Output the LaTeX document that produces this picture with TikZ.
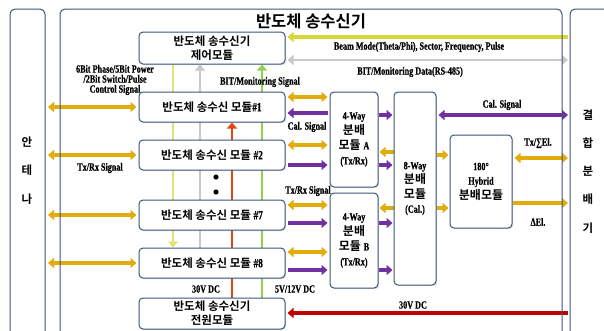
\documentclass[tikz,border=0pt]{standalone}
\usepackage{fontspec}
\setmainfont{Liberation Serif}
\newfontfamily\kr{Noto Sans CJK KR Bold}
\newfontfamily\cond{Liberation Serif Bold}[FakeStretch=0.74,FakeBold=0.6]
\usetikzlibrary{arrows.meta,shadows}
\pgfdeclarelayer{bg}
\pgfsetlayers{bg,main}
\definecolor{boxc}{RGB}{60,85,125}
\definecolor{gold}{RGB}{226,172,10}
\definecolor{purp}{RGB}{112,48,160}
\definecolor{dred}{RGB}{192,0,0}
\definecolor{ored}{RGB}{225,70,20}
\definecolor{lgreen}{RGB}{146,208,80}
\definecolor{pyel}{RGB}{225,228,110}
\definecolor{tyel}{RGB}{215,215,55}
\definecolor{lgray}{RGB}{200,200,200}
\tikzset{
  frame/.style={draw=boxc, line width=1pt, rounded corners=5pt},
  blk/.style={draw=boxc, line width=1pt, rounded corners=4pt, fill=white,
    drop shadow={opacity=0.25, shadow xshift=1.2pt, shadow yshift=-1.2pt},
    align=center, inner sep=0pt},
  modbox/.style={blk, minimum width=146pt, minimum height=30pt, font=\kr\fontsize{11.5}{15}\selectfont},
  lbl/.style={font=\cond\fontsize{11}{10}\selectfont, inner sep=0pt, align=center},
  tip/.style={-{Triangle[width=10pt,length=6pt]}},
  dtip/.style={{Triangle[width=10pt,length=6pt]}-{Triangle[width=10pt,length=6pt]}},
  yarr/.style={draw=gold, line width=3.2pt},
  parr/.style={draw=purp, line width=3.2pt},
  vline/.style={line width=2.6pt},
}
\newcommand{\cfs}{\cond\fontsize{11}{12}\selectfont}
\newcommand{\cfm}{\cond\fontsize{12.5}{13}\selectfont}
\begin{document}
\begin{tikzpicture}[x=1pt,y=-1pt]
\useasboundingbox (0,0) rectangle (604,330);
\begin{pgfonlayer}{bg}
\fill[white] (0,0) rectangle (604,330);
\end{pgfonlayer}
% frames
\draw[frame] (10,9) rectangle (45,345);
\draw[frame] (60,9) rectangle (562,345);
\draw[frame] (570,9) rectangle (625,345);
\coordinate (antE) at (48,0);
\coordinate (cplR) at (568,0);
\node[font=\kr\fontsize{16.5}{18}\selectfont, inner sep=0pt] (title) at (311,21) {반도체 송수신기};
\node[font=\kr\fontsize{11.5}{12}\selectfont, inner sep=0pt] (ant1) at (27,142) {안};
\node[font=\kr\fontsize{11.5}{12}\selectfont, inner sep=0pt] (ant2) at (27,170) {테};
\node[font=\kr\fontsize{11.5}{12}\selectfont, inner sep=0pt] (ant3) at (27,199) {나};
\foreach \t/\yy [count=\i] in {결/115,합/143,분/171,배/199,기/228}
  \node[font=\kr\fontsize{11.5}{12}\selectfont, inner sep=0pt] (cp\i) at (588,\yy) {\t};
% modules
\node[modbox, minimum height=32pt] (ctrl) at (212,48) {반도체 송수신기\\[-1pt]제어모듈};
\node[modbox] (m1) at (212,107) {반도체 송수신 모듈{\cfm\#1}};
\node[modbox] (m2) at (212,155) {반도체 송수신 모듈 {\cfm\#2}};
\node[modbox] (m7) at (212,215) {반도체 송수신 모듈 {\cfm\#7}};
\node[modbox] (m8) at (212,263) {반도체 송수신 모듈 {\cfm\#8}};
\node[modbox, minimum height=31pt] (pwr) at (212,313.5) {반도체 송수신기\\[-1pt]전원모듈};
\node[blk, minimum width=48pt, minimum height=95pt, font=\kr\fontsize{12}{15}\selectfont] (wa) at (354,139.5)
  {{\cfs 4-Way}\\분배\\모듈 {\cfs A}\\{\cfs (Tx/Rx)}};
\node[blk, minimum width=48pt, minimum height=95pt, font=\kr\fontsize{12}{15}\selectfont] (wb) at (354,240.5)
  {{\cfs 4-Way}\\분배\\모듈 {\cfs B}\\{\cfs (Tx/Rx)}};
\node[blk, minimum width=42pt, minimum height=193pt, font=\kr\fontsize{12}{14.5}\selectfont] (w8) at (415,188.5)
  {{\cfs 8-Way}\\분배\\모듈\\{\cfs (Cal.)}};
\node[blk, minimum width=62pt, minimum height=93pt, font=\kr\fontsize{12}{14.5}\selectfont] (hyb) at (481,181.5)
  {{\cfs 180°}\\{\cfs Hybrid}\\분배모듈};
% dots
\fill (216,177) circle (2.6pt);
\fill (216,192) circle (2.6pt);
\begin{pgfonlayer}{bg}
% vertical lines
\draw[vline, pyel, tip] (ctrl.south -| 173,0) -- (m8.north -| 173,0);
\draw[vline, lgray, tip] (m8.north -| 200,0) -- (ctrl.south -| 200,0);
\draw[vline, ored, tip] (pwr.north -| 232,0) -- (m1.south -| 232,0);
\draw[vline, lgreen, tip] (pwr.north -| 262,0) -- (ctrl.south -| 262,0);
% antenna arrows
\foreach \m in {m1,m2,m7,m8}
  \draw[yarr, dtip] (antE |- \m.west) -- ([xshift=-2pt]\m.west);
% top arrows
\draw[tyel, line width=3.6pt, tip] (cplR |- 0,37) -- ([xshift=2pt]ctrl.east |- 0,37);
\draw[lgray, line width=2.6pt, dtip] ([xshift=2pt]ctrl.east |- 0,60) -- (cplR |- 0,60);
% modules to 4-way
\draw[yarr, dtip] ([xshift=2pt]m1.east |- 0,97) -- ([xshift=-2pt]wa.west |- 0,97);
\draw[parr, tip] ([xshift=-2pt]wa.west |- 0,113) -- ([xshift=2pt]m1.east |- 0,113);
\draw[yarr, dtip] ([xshift=2pt]m2.east |- 0,145) -- ([xshift=-2pt]wa.west |- 0,145);
\draw[parr, tip] ([xshift=2pt]m2.east |- 0,165) -- ([xshift=-2pt]wa.west |- 0,165);
\draw[yarr, dtip] ([xshift=2pt]m7.east |- 0,205) -- ([xshift=-2pt]wb.west |- 0,205);
\draw[parr, tip] ([xshift=2pt]m7.east |- 0,223) -- ([xshift=-2pt]wb.west |- 0,223);
\draw[yarr, dtip] ([xshift=2pt]m8.east |- 0,252) -- ([xshift=-2pt]wb.west |- 0,252);
\draw[parr, tip] ([xshift=2pt]m8.east |- 0,270) -- ([xshift=-2pt]wb.west |- 0,270);
% 4-way to 8-way
\draw[parr, tip] (wa.east |- 0,115) -- ([xshift=-1pt]w8.west |- 0,115);
\draw[yarr, tip] (w8.west |- 0,152) -- ([xshift=1pt]wa.east |- 0,152);
\draw[parr, tip] (wa.east |- 0,165) -- ([xshift=-1pt]w8.west |- 0,165);
\draw[yarr, tip] (w8.west |- 0,208) -- ([xshift=1pt]wb.east |- 0,208);
\draw[parr, tip] (wb.east |- 0,223) -- ([xshift=-1pt]w8.west |- 0,223);
\draw[parr, tip] (wb.east |- 0,270) -- ([xshift=-1pt]w8.west |- 0,270);
% 8-way to right
\draw[parr, dtip] ([xshift=2pt]w8.east |- 0,115) -- (cplR |- 0,115);
\draw[yarr, tip] (w8.east |- 0,155) -- ([xshift=-1pt]hyb.west |- 0,155);
\draw[yarr, tip] (w8.east |- 0,208) -- ([xshift=-1pt]hyb.west |- 0,208);
% hybrid to right
\draw[yarr, dtip] ([xshift=2pt]hyb.east |- 0,158) -- (cplR |- 0,158);
\draw[yarr, tip] (hyb.east |- 0,203) -- (cplR |- 0,203);
% power
\draw[dred, line width=4pt, tip] (cplR |- 0,313) -- ([xshift=2pt]pwr.east |- 0,313);
\end{pgfonlayer}
% labels
\node[lbl] (l1) at (115,80) {6Bit Phase/5Bit Power\\/2Bit Switch/Pulse\\Control Signal};
\node[lbl] (l2) at (100,168) {Tx/Rx Signal};
\node[lbl] (l3) at (419,47) {Beam Mode(Theta/Phi), Sector, Frequency, Pulse};
\node[lbl] (l4) at (410,72) {BIT/Monitoring Data(RS-485)};
\node[lbl] (l5) at (260,82) {BIT/Monitoring Signal};
\node[lbl] (l6) at (307,127) {Cal. Signal};
\node[lbl] (l7) at (308,191) {Tx/Rx Signal};
\node[lbl] (l8) at (502,105) {Cal. Signal};
\node[lbl] (l9) at (538,143) {Tx/∑El.};
\node[lbl] (l10) at (538,222) {ΔEl.};
\node[lbl] (l11) at (206,289) {30V DC};
\node[lbl] (l12) at (295,289) {5V/12V DC};
\node[lbl] (l13) at (413,305) {30V DC};
\end{tikzpicture}
\end{document}
